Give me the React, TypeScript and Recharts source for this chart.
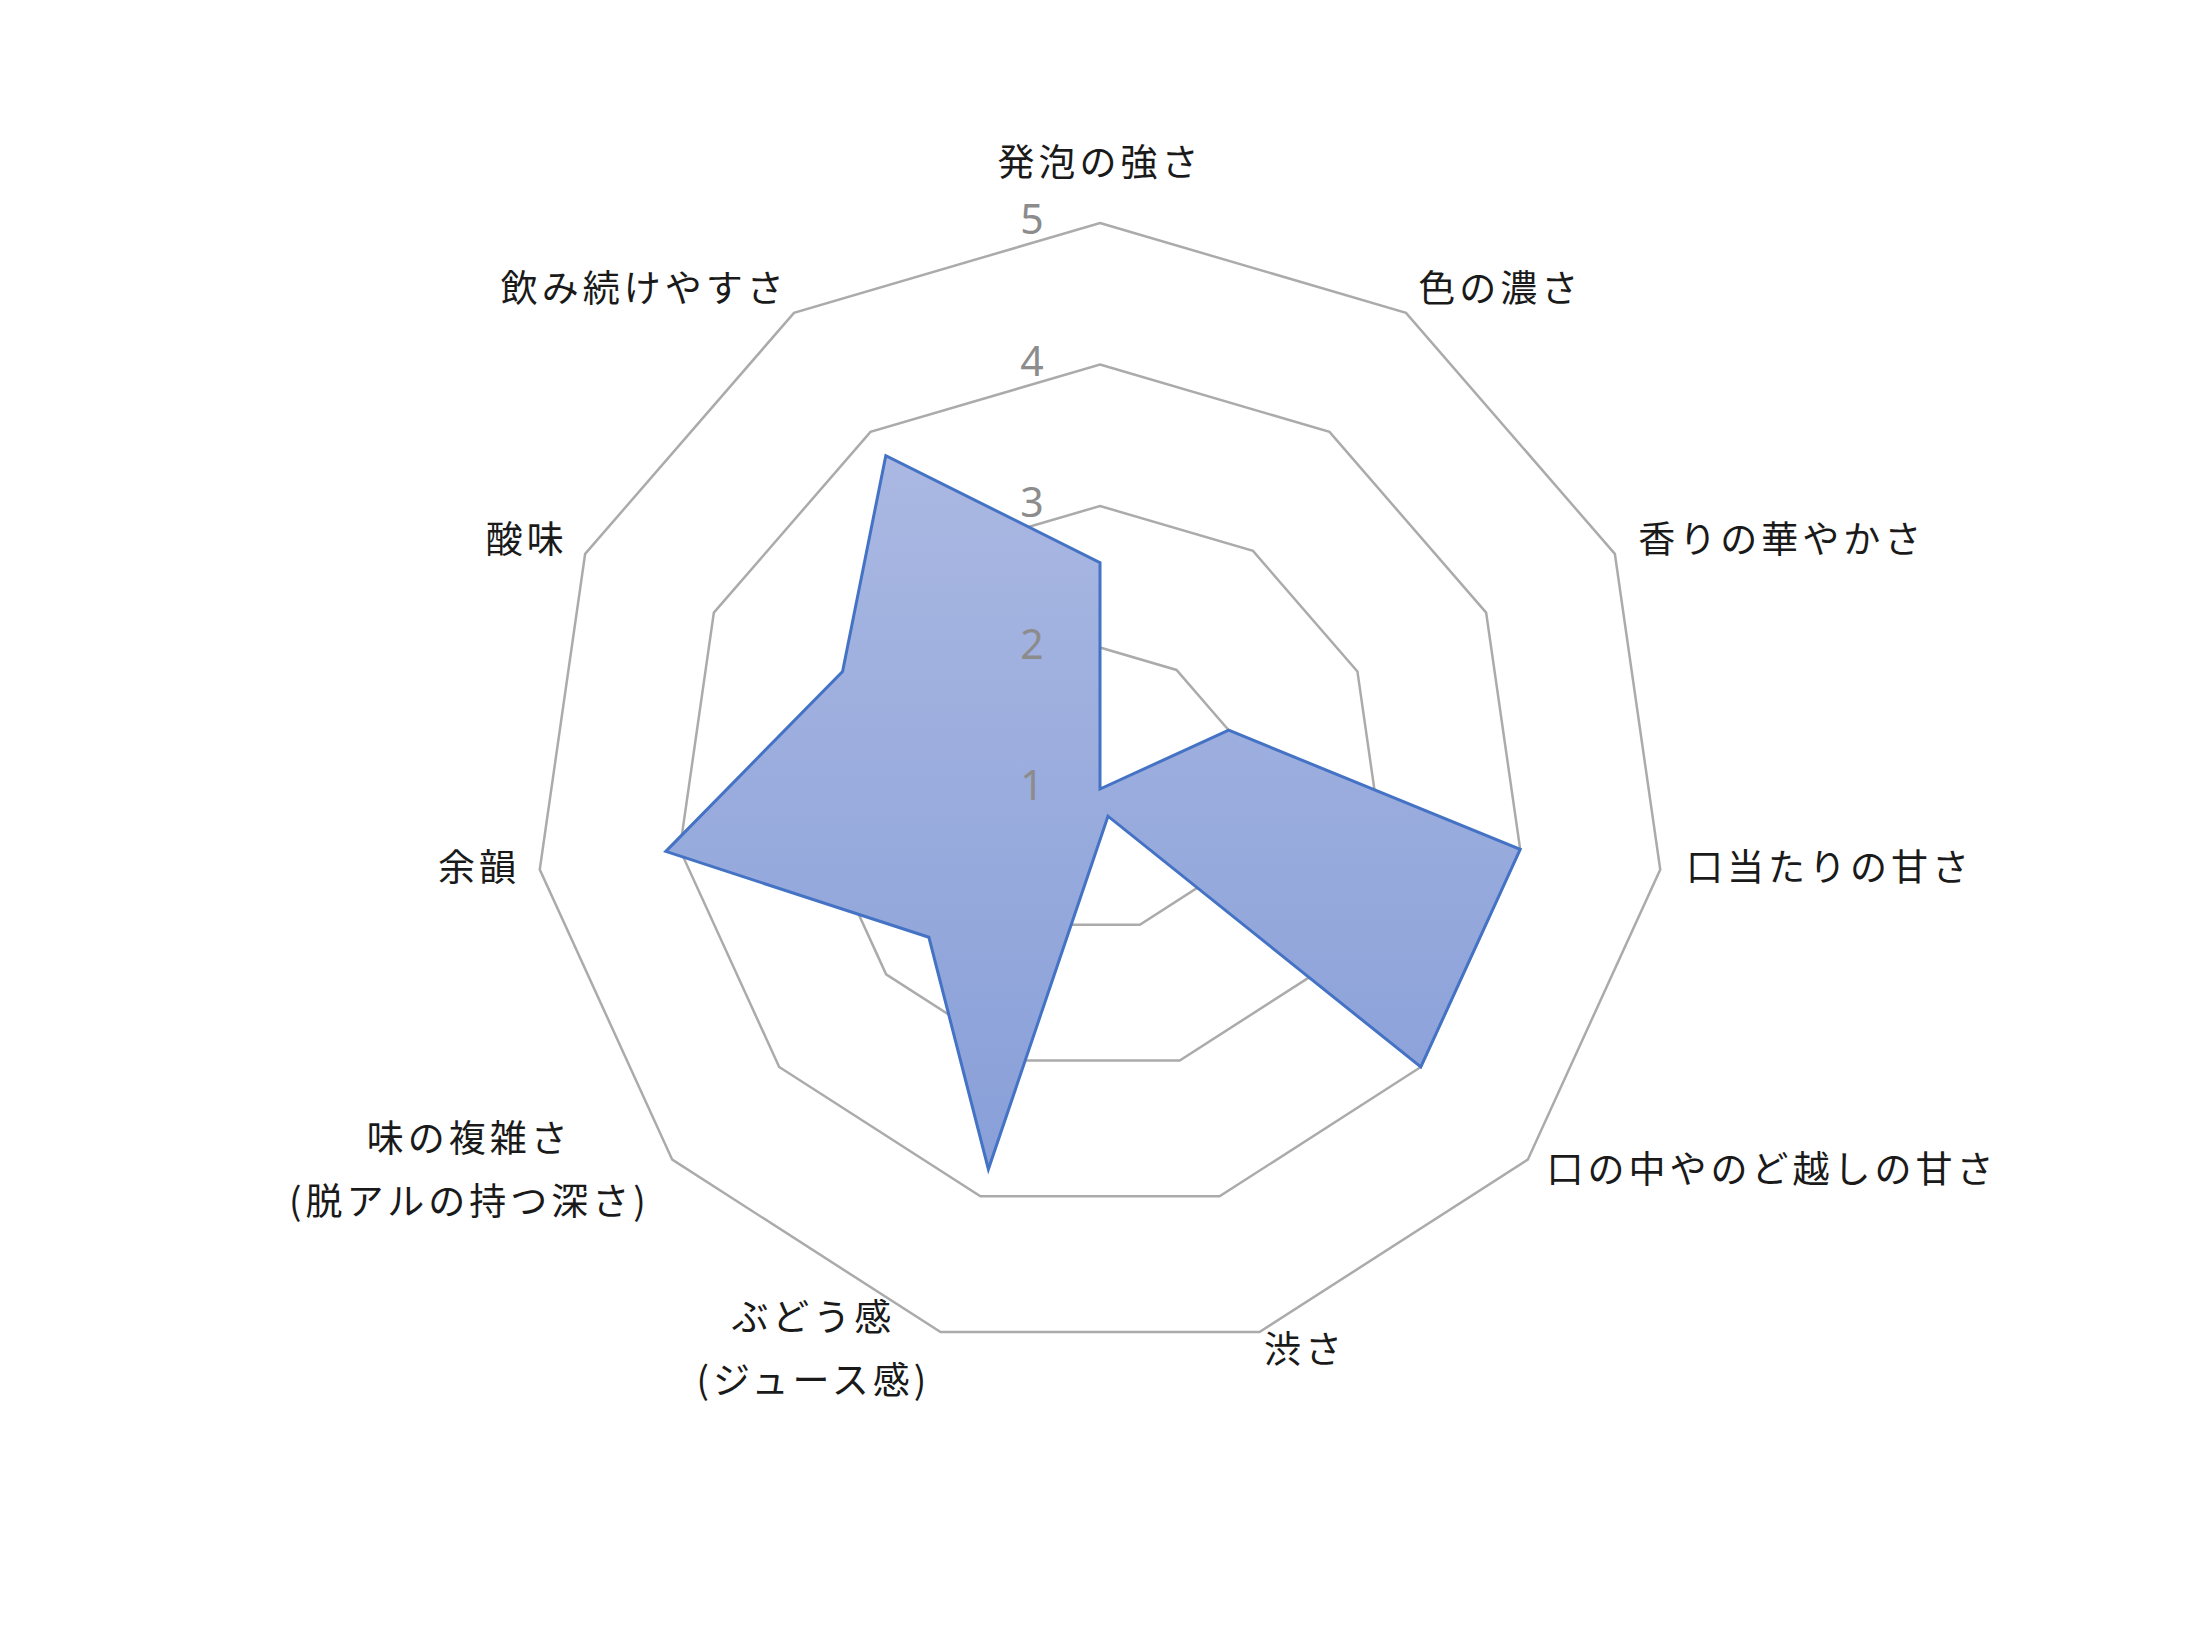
import React from "react";
import {
  RadarChart,
  Radar,
  PolarGrid,
  PolarAngleAxis,
  PolarRadiusAxis,
} from "recharts";

// categories clockwise from the top
const categories = [
  "発泡の強さ",
  "色の濃さ",
  "香りの華やかさ",
  "口当たりの甘さ",
  "口の中やのど越しの甘さ",
  "渋さ",
  "ぶどう感\n(ジュース感)",
  "味の複雑さ\n(脱アルの持つ深さ)",
  "余韻",
  "酸味",
  "飲み続けやすさ",
];
const scores = [2.6, 1, 2, 4, 4, 1.2, 3.8, 2.6, 4.1, 3, 3.8];
const radiusTicks = [1, 2, 3, 4, 5];

const data = categories.map((subject, i) => ({ subject, score: scores[i] }));

const W = 2200;
const H = 1650;
const CX = 1100;
const CY = 789;
const R = 566;
const LABEL_FONT = "'Noto Sans CJK JP', 'Noto Sans', sans-serif";
const FONT_SIZE = 37;
const SPACING = 4;

// rough width of a line of text, full width chars vs ascii
function textWidth(s: string) {
  let w = 0;
  for (const ch of s) {
    w += ch.charCodeAt(0) < 256 ? FONT_SIZE * 0.33 + SPACING : FONT_SIZE + SPACING;
  }
  return w;
}

function AngleTick(props: any) {
  const { payload, index } = props;
  const angle =
    payload && typeof payload.coordinate === "number"
      ? payload.coordinate
      : 90 - (index * 360) / categories.length;
  const rad = (angle * Math.PI) / 180;
  const dx = Math.cos(rad);
  const dy = -Math.sin(rad);
  const lines = String(payload.value).split("\n");
  const lineH = 63;

  let x = CX + (R + 30) * dx;
  let y = CY + (R + 30) * dy - 3;
  let anchor: "start" | "middle" | "end" = "middle";

  if (Math.abs(dx) < 1e-3 && dy < 0) {
    y = CY - R - 63;
  } else {
    y += -4.6 - 6.7 * dy;
    anchor = dx > 0 ? "start" : "end";
    x += dx > 0 ? -4 : 10;
  }

  if (lines.length > 1) {
    const bw = Math.max(...lines.map(textWidth));
    const mx = anchor === "end" ? x - 10 - bw / 2 : anchor === "start" ? x + bw / 2 : x;
    const top = y - ((lines.length - 1) * lineH) / 2;
    return (
      <g>
        {lines.map((ln, i) => (
          <text
            key={i}
            x={mx}
            y={top + i * lineH}
            textAnchor="middle"
            dominantBaseline="central"
            fontFamily={LABEL_FONT}
            fontSize={FONT_SIZE}
            letterSpacing={SPACING}
            fill="#1a1a1a"
          >
            {ln}
          </text>
        ))}
      </g>
    );
  }

  return (
    <text
      x={x}
      y={y}
      textAnchor={anchor}
      dominantBaseline="central"
      fontFamily={LABEL_FONT}
      fontSize={FONT_SIZE}
      letterSpacing={SPACING}
      fill="#1a1a1a"
    >
      {lines[0]}
    </text>
  );
}

function RadiusTick(props: any) {
  const { x, y, payload } = props;
  return (
    <text
      x={x - 68}
      y={y - 5}
      textAnchor="middle"
      dominantBaseline="central"
      fontFamily="'Noto Sans', sans-serif"
      fontSize={41}
      fill="#8c8c8c"
    >
      {payload.value}
    </text>
  );
}

export default function App() {
  return (
    <div
      style={{
        position: "absolute",
        left: 0,
        top: 0,
        width: W,
        height: H,
        background: "#ffffff",
      }}
    >
      <RadarChart
        width={W}
        height={H}
        data={data}
        cx={CX}
        cy={CY}
        outerRadius={R}
        margin={{ top: 0, right: 0, bottom: 0, left: 0 }}
      >
        <defs>
          <linearGradient id="radarFill" x1="0" y1="0" x2="0" y2="1">
            <stop offset="0%" stopColor="#aab8e2" />
            <stop offset="100%" stopColor="#889fd8" />
          </linearGradient>
        </defs>
        <PolarGrid gridType="polygon" radialLines={false} stroke="#ababab" strokeWidth={2.5} />
        <PolarAngleAxis
          dataKey="subject"
          tick={AngleTick}
          tickLine={false}
          axisLine={false}
        />
        <PolarRadiusAxis
          angle={90}
          domain={[1, 5]}
          ticks={radiusTicks}
          tickCount={5}
          tick={RadiusTick}
          axisLine={false}
          tickLine={false}
        />
        <Radar
          dataKey="score"
          stroke="#4472c4"
          strokeWidth={3}
          fill="url(#radarFill)"
          fillOpacity={1}
          dot={false}
          isAnimationActive={false}
        />
      </RadarChart>
    </div>
  );
}
